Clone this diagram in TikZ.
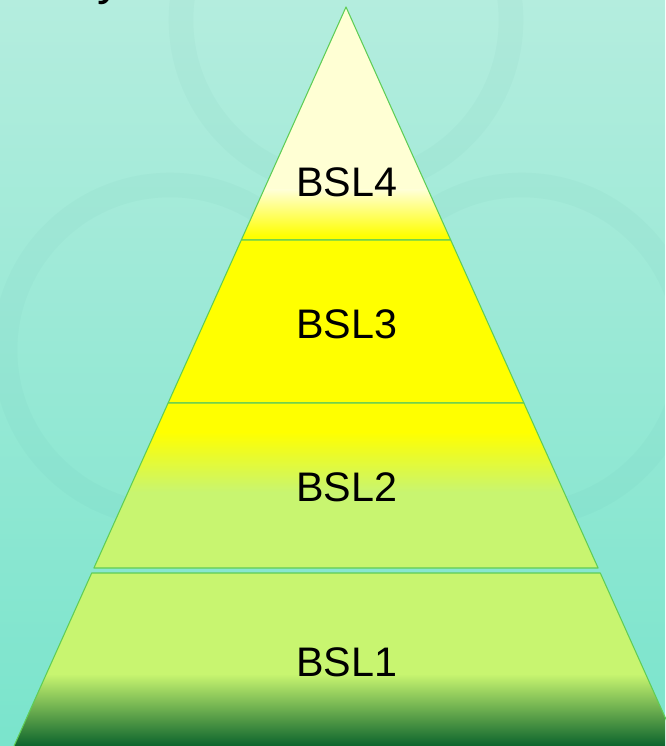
\documentclass[tikz,border=0pt]{standalone}
\usepackage{fontspec}
\setmainfont{Liberation Sans}
\usetikzlibrary{positioning}
\definecolor{bgtop}{RGB}{180,237,222}
\definecolor{bgbot}{RGB}{122,228,204}
\definecolor{wmark}{RGB}{60,150,140}
\definecolor{pale}{RGB}{255,255,212}
\definecolor{sun}{RGB}{255,255,0}
\definecolor{lime}{RGB}{200,245,112}
\definecolor{midgreen}{RGB}{110,180,85}
\definecolor{deep}{RGB}{12,100,45}
\definecolor{rim}{RGB}{95,205,85}

\begin{document}
\begin{tikzpicture}
  [x=0.02cm, y=-0.02cm,
   level/.style={font=\fontsize{23.5}{28}\selectfont, anchor=base, inner sep=0pt},
   layer/.style={draw=rim, line width=0.6pt, line join=round}]
  \useasboundingbox (0,0) rectangle (665,746);
  % background with faint watermark
  \shade [top color=bgtop, bottom color=bgbot] (0,0) rectangle (665,746);
  \begin{scope}
    \clip (0,0) rectangle (665,746);
    \foreach \cx/\cy in {346/20, 170/350, 522/350}
      \draw [wmark, opacity=0.04, line width=14pt] (\cx,\cy) circle (165);
    \node [level, anchor=base west, font=\fontsize{28}{34}\selectfont] (cut) at (97,-5) {y};
  \end{scope}

  % BSL4
  \coordinate (apex) at (346,7);
  \begin{scope}
    \clip (apex) -- (450.7,240) -- (241.3,240) -- cycle;
    \fill [pale] (0,0) rectangle (665,190);
    \shade [top color=pale, bottom color=sun] (0,190) rectangle (665,236);
    \fill [sun] (0,236) rectangle (665,241);
  \end{scope}
  \draw [layer] (apex) -- (450.7,240) -- (241.3,240) -- cycle;

  % BSL3
  \fill [sun] (241.3,240) -- (450.7,240) -- (523.9,403) -- (168.1,403) -- cycle;
  \draw [layer] (241.3,240) -- (450.7,240) -- (523.9,403) -- (168.1,403) -- cycle;

  % BSL2
  \begin{scope}
    \clip (168.1,403) -- (523.9,403) -- (598.1,568) -- (93.9,568) -- cycle;
    \fill [sun] (0,400) rectangle (665,432);
    \shade [top color=sun, bottom color=lime] (0,432) rectangle (665,492);
    \fill [lime] (0,492) rectangle (665,570);
  \end{scope}
  \draw [layer] (168.1,403) -- (523.9,403) -- (598.1,568) -- (93.9,568) -- cycle;

  % BSL1
  \begin{scope}
    \clip (91.7,573) -- (600.3,573) -- (678,746) -- (14,746) -- cycle;
    \fill [lime] (0,570) rectangle (665,674);
    \shade [top color=lime, middle color=midgreen, bottom color=deep] (0,674) rectangle (665,746);
  \end{scope}
  \draw [layer] (14,746) -- (91.7,573) -- (600.3,573) -- (678,746);

  \node [level] (bsl4) at (346.5,197) {BSL4};
  \node [level] (bsl3) at (346.5,338) {BSL3};
  \node [level] (bsl2) at (346.5,501) {BSL2};
  \node [level] (bsl1) at (346.5,676) {BSL1};
\end{tikzpicture}
\end{document}
